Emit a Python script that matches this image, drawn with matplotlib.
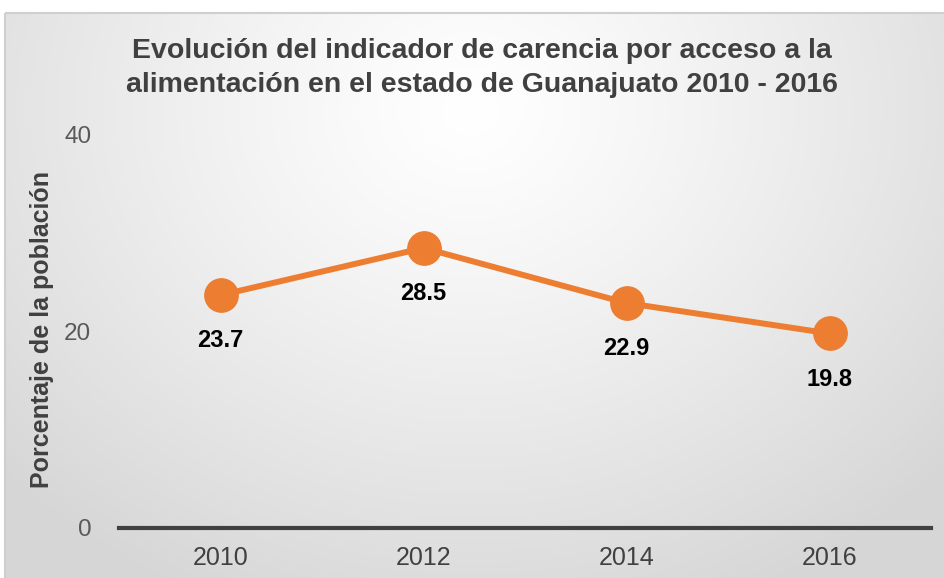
import numpy as np
import matplotlib
matplotlib.use("Agg")
import matplotlib.pyplot as plt
from matplotlib.patches import Rectangle

years = ["2010", "2012", "2014", "2016"]
values = [23.7, 28.5, 22.9, 19.8]
yticks = [0, 20, 40]

W, H = 944, 578
fig = plt.figure(figsize=(W / 100, H / 100), dpi=100)
fig.patch.set_facecolor("white")

# background panel with radial gradient
bg = fig.add_axes([0, 0, 1, 1], zorder=0)
bg.set_xlim(0, W)
bg.set_ylim(H, 0)
bg.axis("off")
x0, y0 = 5, 13
xx, yy = np.meshgrid(np.arange(x0, W), np.arange(y0, H))
cx, cy = 470, 110
d = np.sqrt(((xx - cx) / 640.0) ** 2 + ((yy - cy) / 540.0) ** 2)
d = np.clip(d, 0, 1)
v = 1.0 - 0.16 * d ** 1.2
img = np.dstack([v, v, v])
bg.imshow(img, extent=(x0, W, H, y0), aspect="auto", interpolation="bilinear")
bg.add_patch(Rectangle((x0, y0), W - x0 + 5, H - y0 + 5, fill=False,
                       edgecolor="#cfcfcf", linewidth=1.5))
bg.set_xlim(0, W)
bg.set_ylim(H, 0)

ax = fig.add_axes([119 / W, 1 - 528 / H, (931 - 119) / W, (528 - 135) / H], zorder=1)
ax.patch.set_alpha(0)
x = np.arange(len(years))
ax.plot(x, values, color="#ED7D31", linewidth=4.3, marker="o", markersize=24,
        markerfacecolor="#ED7D31", markeredgecolor="#ED7D31", solid_capstyle="round",
        clip_on=False)
for xi, val in zip(x, values):
    ax.annotate(f"{val}", (xi, val), xytext=(0, -33), textcoords="offset points",
                ha="center", va="center", fontsize=17, fontweight="bold",
                color="black", family=["Liberation Sans", "DejaVu Sans"])

ax.set_xlim(-0.5, 3.5)
ax.set_ylim(0, 40)
ax.set_yticks(yticks)
ax.set_yticklabels([str(t) for t in yticks], fontsize=17.5, color="#595959",
                   family=["Liberation Sans", "DejaVu Sans"])
ax.set_xticks(x)
ax.set_xticklabels(years, fontsize=18, color="#404040",
                   family=["Liberation Sans", "DejaVu Sans"])
ax.tick_params(axis="both", length=0)
ax.tick_params(axis="y", pad=20)
ax.tick_params(axis="x", pad=13)
for s in ["top", "right", "left"]:
    ax.spines[s].set_visible(False)
ax.spines["bottom"].set_color("#404040")
ax.spines["bottom"].set_linewidth(3)

fig.text(42 / W, 1 - 330 / H, "Porcentaje de la población", rotation=90,
         ha="center", va="center", fontsize=18, fontweight="bold", color="#404040",
         family=["Liberation Sans", "DejaVu Sans"])

fig.text(482 / W, 1 - 68 / H,
         "Evolución del indicador de carencia por acceso a la\nalimentación en el estado de Guanajuato 2010 - 2016",
         ha="center", va="center", fontsize=20.5, fontweight="bold", color="#404040",
         linespacing=1.42,
         family=["Liberation Sans", "DejaVu Sans"])

fig.savefig("out.png", dpi=100)
